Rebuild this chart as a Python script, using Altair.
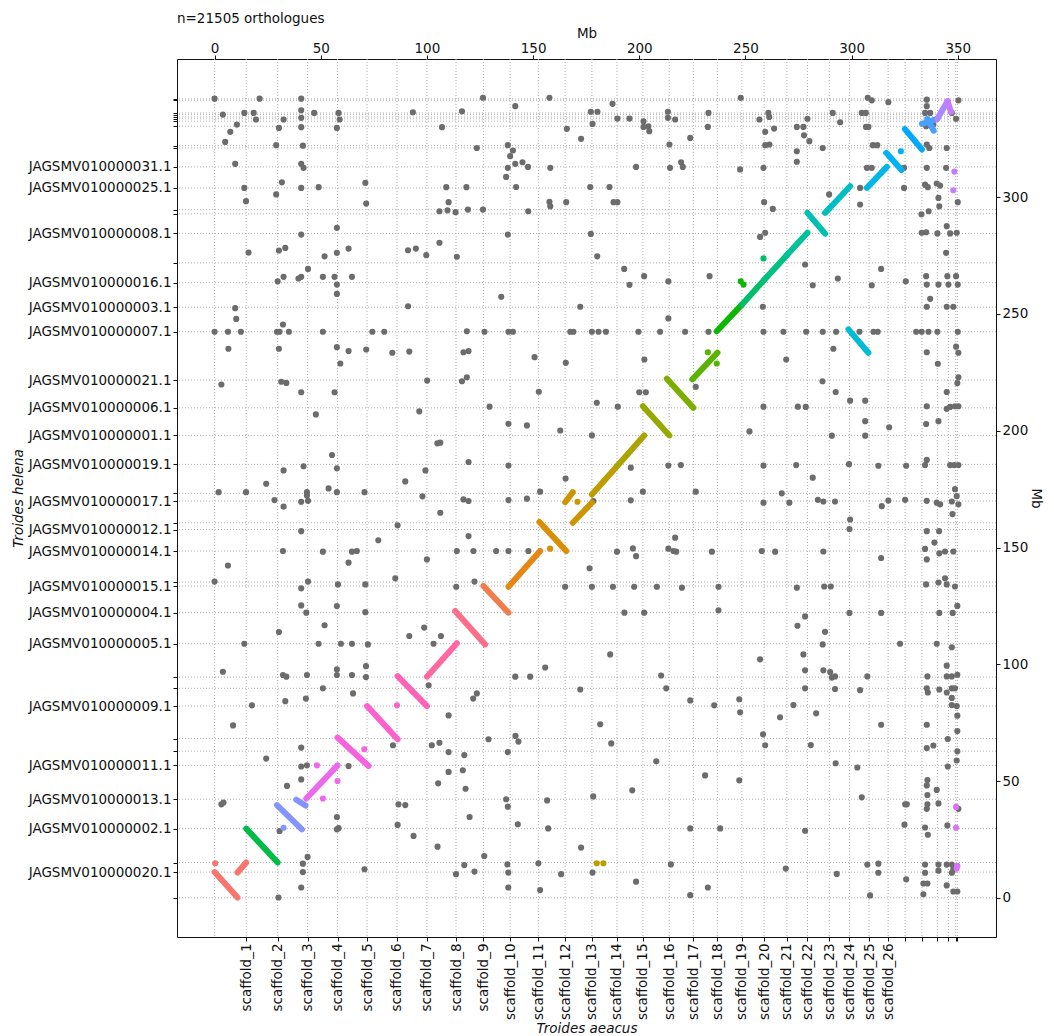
import math
import json
import altair as alt
import pandas as pd

TITLE = "n=21505 orthologues"
X_TITLE = "Troides aeacus"
Y_TITLE = "Troides helena"

X_DOMAIN = [-17.7, 368.0]
Y_DOMAIN = [-16.8, 359.2]
TOP_TICKS = [0, 50, 100, 150, 200, 250, 300, 350]
RIGHT_TICKS = [0, 50, 100, 150, 200, 250, 300]

# Troides aeacus scaffold boundaries (Mb)
X_BOUNDS = [0, 14.9, 29.7, 43.8, 57.9, 71.8, 85.9, 100.0, 113.7, 126.6, 139.2, 152.5,
            165.1, 177.7, 189.5, 201.7, 214.1, 225.5, 236.8, 248.3, 258.8, 269.5, 279.2,
            289.5, 299.0, 308.2, 317.2, 325.2, 333.1, 340.4, 345.6, 349.0, 349.8]
X_NAMES = ["", "scaffold_1", "scaffold_2", "scaffold_3", "scaffold_4", "scaffold_5",
           "scaffold_6", "scaffold_7", "scaffold_8", "scaffold_9", "scaffold_10",
           "scaffold_11", "scaffold_12", "scaffold_13", "scaffold_14", "scaffold_15",
           "scaffold_16", "scaffold_17", "scaffold_18", "scaffold_19", "scaffold_20",
           "scaffold_21", "scaffold_22", "scaffold_23", "scaffold_24", "scaffold_25",
           "scaffold_26", "", "", "", "", "", ""]

# Troides helena scaffold boundaries (Mb)
Y_BOUNDS = [0, 11.0, 15.1, 29.6, 42.2, 56.7, 62.8, 68.2, 82.1, 89.7, 94.5, 108.8, 122.1,
            133.5, 135.2, 148.5, 157.7, 160.6, 169.9, 173.2, 185.6, 198.0, 209.8, 221.7,
            242.4, 252.9, 263.4, 271.9, 284.5, 292.9, 294.7, 304.0, 313.0, 321.1, 322.1,
            330.4, 332.6, 333.6, 334.4, 335.4, 336.1, 341.5, 342.1]
Y_NAMES = ["", "JAGSMV010000020.1", "", "JAGSMV010000002.1", "JAGSMV010000013.1",
           "JAGSMV010000011.1", "", "", "JAGSMV010000009.1", "", "", "JAGSMV010000005.1",
           "JAGSMV010000004.1", "JAGSMV010000015.1", "", "JAGSMV010000014.1",
           "JAGSMV010000012.1", "", "JAGSMV010000017.1", "", "JAGSMV010000019.1",
           "JAGSMV010000001.1", "JAGSMV010000006.1", "JAGSMV010000021.1",
           "JAGSMV010000007.1", "JAGSMV010000003.1", "JAGSMV010000016.1", "",
           "JAGSMV010000008.1", "", "", "JAGSMV010000025.1", "JAGSMV010000031.1",
           "", "", "", "", "", "", "", "", "", ""]

# Colored collinear blocks: scaffold, x1, y1, x2, y2 (Mb)
SEG_SCAF = ["scaffold_1", "scaffold_1", "scaffold_2", "scaffold_3", "scaffold_3",
            "scaffold_4", "scaffold_5", "scaffold_6", "scaffold_7", "scaffold_8",
            "scaffold_9", "scaffold_10", "scaffold_11", "scaffold_12", "scaffold_13",
            "scaffold_13", "scaffold_14", "scaffold_15", "scaffold_16", "scaffold_17",
            "scaffold_18", "scaffold_19", "scaffold_20", "scaffold_21", "scaffold_22",
            "scaffold_23", "scaffold_23", "scaffold_24", "scaffold_25", "scaffold_26",
            "scaffold_27", "scaffold_28", "scaffold_29", "scaffold_29", "scaffold_30",
            "scaffold_31"]
SEG_X1 = [0.0, 10.8, 14.9, 29.4, 38.5, 43.2, 57.9, 71.8, 86.2, 100.0, 113.3, 126.6, 138.4,
          153.0, 165.1, 168.7, 177.7, 189.5, 201.7, 213.0, 225.0, 236.5, 248.3, 258.8,
          269.5, 279.2, 287.5, 289.5, 298.5, 307.2, 316.3, 325.1, 333.1, 335.6, 340.4, 345.2]
SEG_Y1 = [11.0, 10.8, 29.6, 39.7, 42.0, 42.5, 68.6, 82.1, 94.9, 94.7, 122.8, 133.5, 133.2,
          160.9, 169.4, 160.6, 172.7, 184.8, 210.5, 222.3, 222.0, 242.6, 254.0, 264.6,
          275.2, 293.3, 293.3, 295.2, 243.4, 304.0, 319.0, 329.2, 331.4, 333.6, 333.6, 341.2]
SEG_X2 = [10.8, 14.9, 29.7, 41.1, 42.8, 57.9, 72.5, 86.2, 100.0, 114.1, 127.4, 138.4, 153.3,
          165.6, 168.7, 177.7, 189.5, 202.3, 214.2, 225.5, 236.8, 248.3, 258.8, 269.5,
          279.2, 287.5, 289.5, 299.3, 307.9, 316.6, 323.5, 333.1, 340.4, 338.7, 345.2, 346.8]
SEG_Y2 = [0.1, 15.1, 15.1, 29.3, 39.5, 56.7, 56.4, 67.9, 82.1, 109.0, 108.5, 122.1, 148.5,
          148.5, 173.7, 169.2, 184.8, 198.0, 198.0, 209.8, 233.4, 254.0, 264.6, 275.2,
          284.8, 284.4, 295.2, 304.7, 233.4, 313.0, 311.7, 320.5, 333.6, 328.5, 341.2, 336.5]

# Colored isolated orthologues
DOT_SCAF = ["scaffold_1", "scaffold_3", "scaffold_4", "scaffold_4", "scaffold_4",
            "scaffold_5", "scaffold_6", "scaffold_12", "scaffold_13", "scaffold_14",
            "scaffold_14", "scaffold_18", "scaffold_18", "scaffold_19", "scaffold_19",
            "scaffold_20", "scaffold_27", "scaffold_31", "scaffold_31", "scaffold_32",
            "scaffold_32", "scaffold_32", "scaffold_32"]
DOT_X = [0.3, 32.5, 48.2, 51.0, 57.9, 70.5, 85.9, 158.0, 170.9, 180.0, 183.1, 232.3, 236.5,
         247.8, 249.1, 258.5, 323.2, 348.4, 347.9, 349.2, 349.2, 349.8, 349.5]
DOT_Y = [14.8, 30.0, 56.7, 42.5, 50.0, 63.6, 82.4, 149.5, 169.6, 14.8, 14.8, 233.6, 228.8,
         264.0, 262.6, 273.8, 319.7, 311.0, 303.0, 38.9, 30.0, 13.7, 12.5]

# Grey (non-syntenic) orthologues, [x Mb, y Mb]
GRAY_PTS = [
    [0, 342.2], [21.2, 342.2], [40.8, 342.2], [3.9, 335.4], [14.0, 336.1], [18.4, 336.1],
    [19.5, 333.3], [40.8, 337.2], [40.8, 334.0], [46.9, 336.1], [58.4, 336.1], [58.9, 333.3],
    [32.5, 333.3], [10.5, 331.1], [7.4, 328.0], [5.0, 323.7], [30.3, 329.7], [40.8, 330.0],
    [57.6, 329.7], [29.0, 322.3], [41.6, 322.1], [9.7, 314.3], [40.8, 314.3], [41.9, 312.6],
    [14.0, 304.0], [31.7, 306.4], [40.8, 304.0], [49.0, 304.3], [29.0, 301.2], [14.8, 298.3],
    [57.6, 286.9], [40.8, 284.0], [16.0, 276.3], [30.3, 277.2], [33.3, 278.3], [51.8, 274.7],
    [57.6, 276.2], [63.1, 278.0], [44.0, 269.3], [29.7, 264.0], [32.5, 265.9], [39.5, 265.2],
    [40.8, 265.9], [51.0, 265.9], [56.5, 265.9], [64.7, 265.9], [57.6, 262.6], [57.6, 258.6],
    [9.7, 252.5], [10.2, 247.9], [32.2, 245.5], [0, 242.4], [6.3, 242.4], [12.4, 242.4],
    [29.4, 242.4], [30.6, 242.4], [35.0, 242.4], [51.0, 242.4], [6.5, 235.1], [30.3, 235.1],
    [57.6, 235.8], [63.1, 234.1], [59.2, 228.8],
    [3.2, 219.8], [31.4, 221.0], [33.8, 220.5], [40.8, 216.5], [56.5, 216.5], [47.7, 207.0],
    [55.3, 189.6], [32.5, 183.0], [41.9, 184.8], [57.6, 183.9], [24.3, 177.3], [1.9, 173.7],
    [14.8, 173.7], [43.5, 173.7], [43.5, 172.3], [53.7, 175.3], [57.6, 173.7], [28.2, 170.3],
    [40.8, 169.6], [44.0, 170.0], [32.5, 167.5], [40.8, 157.0], [32.2, 148.5], [51.0, 148.2],
    [64.7, 148.2], [67.0, 148.5], [6.3, 142.3], [63.1, 143.5], [0, 135.4], [44.0, 135.4],
    [40.8, 132.5], [58.1, 134.2], [40.8, 125.2], [57.6, 124.9], [43.2, 122.1], [51.8, 116.7],
    [30.3, 113.8], [14.0, 108.8], [49.0, 108.8], [59.5, 108.8], [64.7, 108.8],
    [3.9, 96.8], [32.2, 95.4], [33.8, 94.7], [43.5, 95.4], [57.6, 97.8], [57.6, 95.4],
    [64.7, 95.4], [51.0, 89.7], [65.2, 87.5], [17.6, 82.4], [33.3, 84.2], [43.0, 85.3],
    [8.7, 73.8], [40.8, 64.3], [24.3, 59.6], [40.8, 56.2], [43.5, 56.7], [63.1, 56.4],
    [34.1, 47.9], [40.8, 50.7], [3.2, 40.0], [4.2, 40.8], [57.6, 34.6], [57.6, 29.3],
    [58.4, 29.8], [30.6, 28.6], [30.1, 0.1], [40.8, 4.4], [41.6, 11.0], [41.6, 14.6],
    [43.8, 17.5],
    [71.0, 134.2], [85.1, 136.8], [100.0, 144.9], [71.0, 122.3], [72.2, 108.5], [71.3, 99.2],
    [71.3, 94.5], [91.7, 112.1], [98.7, 115.7], [103.1, 108.8], [106.6, 112.1], [113.8, 133.2],
    [122.4, 135.4], [141.6, 94.7], [148.6, 94.7], [100.8, 91.0], [121.8, 85.3], [123.5, 87.5],
    [110.2, 78.1], [129.0, 67.9], [141.7, 69.3], [143.1, 66.9], [138.1, 62.4], [102.3, 65.3],
    [105.9, 66.4], [110.2, 62.4], [117.6, 61.1], [84.0, 65.3], [110.2, 53.9], [116.9, 54.6],
    [105.3, 49.0], [118.2, 46.7], [120.1, 34.6], [86.6, 40.0], [89.8, 39.7], [86.2, 31.2],
    [93.7, 26.5], [105.0, 21.9], [137.3, 42.2], [138.1, 39.0], [142.8, 31.5], [127.0, 17.9],
    [117.6, 14.0], [113.7, 10.1], [122.4, 11.2], [137.9, 14.3], [138.3, 10.8], [138.3, 4.4],
    [70.6, 12.2],
    [152.5, 14.8], [153.3, 3.3], [163.2, 10.1], [172.6, 21.5], [178.0, 10.8],
    [198.5, 6.9], [214.9, 14.3], [224.0, 1.1], [232.3, 4.4], [269.0, 12.5],
    [118.8, 242.6], [127.1, 242.4], [138.4, 242.4], [140.5, 242.4], [167.5, 242.4],
    [169.0, 242.4], [177.7, 242.4], [180.8, 242.4], [184.3, 242.4], [199.6, 242.4],
    [209.8, 242.4], [221.6, 242.4], [232.6, 242.4], [258.5, 242.4], [267.9, 242.4],
    [172.2, 253.1], [213.7, 248.1], [258.2, 253.1], [117.2, 233.6], [119.6, 234.1],
    [150.7, 231.5], [165.4, 229.1], [202.4, 230.5], [269.2, 230.5], [116.5, 221.2],
    [118.8, 222.9], [152.7, 216.7], [180.0, 212.0], [200.0, 216.5], [203.1, 216.5],
    [226.6, 218.8], [129.5, 210.3], [189.9, 210.3], [258.5, 210.3], [274.7, 210.3],
    [138.4, 203.0], [147.1, 202.3], [162.8, 200.1], [177.7, 198.0], [251.9, 199.7],
    [106.3, 194.9], [119.6, 186.6], [138.4, 185.1], [196.0, 184.2], [213.7, 185.1],
    [219.6, 185.3], [258.5, 185.1], [273.9, 185.3], [165.3, 179.5], [153.3, 173.9],
    [201.7, 173.9], [226.6, 173.9], [267.1, 173.2], [117.2, 170.6], [119.6, 169.9],
    [138.4, 170.3], [147.1, 170.9], [178.4, 169.9], [196.0, 170.2], [258.5, 169.2],
    [270.7, 169.2], [106.3, 164.9], [119.6, 154.9], [216.9, 154.2], [114.1, 148.5],
    [121.9, 148.5], [132.6, 148.5], [138.4, 148.5], [147.8, 148.5], [189.5, 148.2],
    [197.0, 149.6], [198.5, 146.3], [213.7, 149.5], [216.1, 148.5], [217.4, 148.2],
    [234.2, 148.2], [257.7, 148.5], [264.0, 148.2], [176.6, 141.1], [165.1, 133.2],
    [177.7, 133.2], [187.6, 133.2], [197.6, 133.2], [208.3, 133.2], [220.1, 132.8],
    [237.3, 133.2], [274.2, 132.8], [193.0, 122.1], [202.3, 122.1], [237.3, 123.1],
    [126.4, 342.6], [157.7, 342.6], [141.6, 339.0], [187.4, 340.0], [93.4, 336.4],
    [116.5, 336.8], [177.2, 336.6], [180.3, 336.6], [232.6, 336.1], [213.5, 336.6],
    [213.5, 334.0], [216.9, 333.3], [189.7, 333.7], [195.4, 333.7], [202.0, 332.5],
    [202.0, 330.1], [204.3, 330.4], [204.7, 328.3], [107.1, 330.0], [165.9, 329.3],
    [178.0, 331.4], [232.3, 330.1], [172.6, 325.0], [224.0, 325.4], [123.5, 321.1],
    [138.1, 322.3], [140.5, 320.0], [139.2, 317.6], [214.2, 322.6], [141.6, 314.3],
    [145.0, 315.0], [147.6, 313.0], [138.1, 312.6], [158.1, 312.6], [198.5, 313.0],
    [214.5, 312.6], [219.7, 315.0], [220.5, 313.0], [71.0, 306.2], [71.4, 297.3],
    [137.3, 308.7], [109.1, 304.3], [118.6, 304.3], [142.0, 304.4], [176.9, 304.4],
    [186.0, 304.4], [110.2, 297.9], [105.9, 294.0], [109.7, 294.4], [113.5, 293.6],
    [119.3, 294.7], [126.4, 294.7], [147.7, 294.0], [157.7, 298.0], [158.1, 296.1],
    [165.6, 297.9], [187.9, 297.9], [189.7, 297.9], [138.1, 284.0], [177.2, 284.3],
    [105.9, 280.5], [91.1, 277.3], [94.8, 278.0], [99.7, 275.2], [114.1, 274.5],
    [180.2, 274.7], [192.9, 269.3], [195.4, 262.5], [202.3, 266.2], [213.7, 264.0],
    [233.1, 266.2], [135.0, 257.4], [91.1, 253.3],
    [247.8, 342.6], [260.8, 336.1], [261.2, 334.4], [256.6, 333.3], [259.3, 328.0],
    [263.5, 329.4], [274.2, 330.1], [277.3, 330.1], [279.2, 333.6], [277.6, 326.5],
    [280.1, 324.0], [261.3, 322.6], [259.3, 322.3], [274.2, 319.7], [274.2, 315.2],
    [286.4, 321.1], [291.1, 336.1], [294.6, 332.1], [304.8, 336.1], [306.7, 336.1],
    [307.6, 342.6], [309.5, 341.5], [317.3, 340.7], [306.8, 330.1], [307.9, 330.1],
    [310.0, 322.3], [312.1, 322.3], [335.4, 341.8], [335.4, 339.0], [334.6, 336.1],
    [337.0, 336.1], [335.1, 330.4], [338.5, 331.1], [347.2, 336.1], [349.2, 333.6],
    [350.3, 341.5], [335.4, 322.6], [336.6, 321.1], [344.8, 321.1], [247.5, 311.9],
    [258.5, 312.6], [307.2, 312.6], [309.5, 312.6], [324.7, 312.6], [335.4, 312.6],
    [344.5, 312.6], [304.0, 304.0], [324.7, 304.0], [334.6, 305.4], [335.9, 304.3],
    [340.1, 305.9], [341.7, 305.0], [289.4, 301.2], [304.0, 296.9], [258.8, 297.9],
    [262.9, 295.0], [332.9, 292.7], [336.3, 294.0], [340.9, 299.7], [341.3, 296.1],
    [350.0, 297.9], [344.8, 287.6], [256.9, 283.0], [259.3, 284.8], [333.0, 284.8],
    [335.1, 285.0], [340.4, 284.5], [346.4, 284.5], [349.5, 284.8], [344.5, 276.2],
    [278.1, 271.2], [313.9, 269.3], [293.5, 265.2], [281.7, 262.3], [309.5, 262.3],
    [325.5, 264.0], [335.1, 266.2], [335.4, 262.6], [340.9, 262.6], [345.1, 266.2],
    [345.6, 262.6], [349.2, 266.2], [350.0, 262.6], [337.0, 256.5], [335.4, 253.1],
    [344.8, 253.1], [347.9, 253.1], [278.6, 242.4], [286.4, 242.4], [292.7, 242.4],
    [303.7, 242.4], [310.3, 242.4], [312.3, 242.4], [330.4, 242.4], [333.0, 242.4],
    [336.2, 242.4], [340.4, 242.4], [350.0, 242.4], [291.4, 235.1], [335.4, 233.6],
    [340.6, 228.7], [349.2, 236.0], [350.3, 233.4], [350.3, 222.9],
    [286.3, 221.2], [292.5, 216.6], [299.3, 212.9], [306.4, 212.9], [278.4, 210.2],
    [335.4, 210.5], [346.4, 210.2], [348.7, 210.5], [350.3, 210.5], [344.8, 209.4],
    [344.8, 216.6], [349.8, 220.4], [306.4, 204.1], [340.9, 204.1], [335.1, 202.9],
    [317.7, 201.5], [290.7, 197.9], [306.4, 197.9], [298.8, 185.7], [312.6, 185.0],
    [325.7, 185.0], [334.6, 185.3], [335.4, 187.5], [346.4, 185.3], [348.3, 185.3],
    [350.3, 185.3], [281.7, 179.9], [284.1, 170.4], [286.7, 169.7], [292.2, 169.7],
    [314.2, 167.7], [317.3, 170.1], [325.2, 170.4], [335.4, 170.0], [340.1, 169.2],
    [341.7, 168.5], [347.2, 169.7], [350.3, 168.5], [348.7, 175.0], [349.5, 172.0],
    [347.5, 164.3], [299.3, 162.0], [299.0, 157.9], [335.4, 157.0], [341.2, 157.0],
    [339.0, 152.1], [286.7, 148.3], [334.6, 149.4], [335.4, 144.9], [341.3, 147.5],
    [344.0, 148.3], [347.9, 148.3], [313.9, 145.5], [287.1, 133.3], [290.2, 133.3],
    [335.1, 134.2], [340.9, 135.0], [344.0, 136.8], [344.8, 134.2], [348.7, 133.3],
    [349.8, 125.0], [278.1, 120.5], [299.0, 122.0], [313.9, 122.0], [341.3, 122.0],
    [347.6, 122.0], [274.5, 116.5], [287.5, 113.9], [277.3, 104.2], [286.4, 108.5],
    [322.8, 108.8], [340.1, 108.8], [347.2, 107.3], [344.8, 99.4], [278.1, 97.4],
    [286.7, 97.4], [289.9, 96.7], [290.7, 94.3], [292.2, 94.8], [307.4, 94.8],
    [335.7, 94.8], [344.8, 94.8], [347.2, 94.8], [349.8, 95.5], [278.1, 89.7],
    [292.2, 89.4], [304.0, 88.9], [335.4, 89.7], [341.3, 89.2], [347.2, 89.7],
    [348.7, 89.7], [335.9, 87.9], [344.8, 87.9], [347.2, 85.6], [347.2, 82.5],
    [349.5, 82.1], [349.8, 78.0], [272.6, 82.5], [283.3, 79.0], [313.9, 74.1],
    [335.4, 74.1], [349.8, 71.4], [280.8, 65.4], [338.5, 65.2], [335.4, 64.1],
    [345.3, 68.0], [349.8, 62.7], [292.5, 57.6], [302.7, 55.8], [345.3, 56.2],
    [349.5, 58.8], [304.8, 43.0], [335.7, 50.4], [335.4, 48.1], [340.1, 46.2],
    [335.7, 44.0], [325.2, 40.0], [326.0, 40.0], [335.7, 40.0], [340.9, 40.4],
    [335.4, 38.1], [350.3, 38.1], [278.1, 28.7], [324.9, 31.3], [334.6, 30.1],
    [335.9, 27.0], [345.1, 31.0], [307.4, 14.2], [312.6, 14.6], [334.6, 14.2],
    [340.9, 14.2], [344.8, 14.2], [347.2, 14.2], [347.9, 12.2], [347.2, 10.7],
    [293.0, 10.2], [312.6, 10.7], [334.6, 10.7], [340.9, 11.6], [325.7, 7.9],
    [333.8, 6.1], [335.7, 6.1], [344.8, 5.3], [347.9, 2.7], [349.8, 2.7], [308.7, 1.0],
    [333.8, 1.5],
    [74.3, 242.4], [79.9, 242.4], [71.4, 234.8], [83.7, 233.4], [91.7, 233.9],
    [100.1, 221.5], [96.4, 208.3], [104.9, 194.6], [99.3, 183.0], [89.8, 178.3],
    [70.6, 173.7], [97.9, 171.9], [86.2, 159.5], [77.1, 153.1],
    [210.3, 95.2], [212.7, 89.7], [224.0, 84.5], [235.3, 82.4], [247.1, 85.0],
    [247.5, 79.4], [258.3, 70.0], [259.3, 65.3], [231.0, 52.4], [247.1, 50.3],
    [186.8, 66.1], [196.7, 46.0], [156.6, 41.7], [178.3, 43.4], [157.1, 29.7],
    [224.0, 29.7], [238.1, 29.7], [208.0, 58.4], [172.2, 89.2], [186.3, 104.2],
    [155.7, 98.6], [256.9, 102.1], [266.3, 77.3], [181.6, 74.3],
]


def hcl_hex(h, c=100.0, l=65.0):
    """Polar CIE-Luv (HCL) colour to sRGB hex, as used by hue palettes."""
    hr = math.radians(h)
    u, v = c * math.cos(hr), c * math.sin(hr)
    xn, yn, zn = 95.047, 100.0, 108.883
    den = xn + 15 * yn + 3 * zn
    un, vn = 4 * xn / den, 9 * yn / den
    Y = yn * ((l + 16) / 116) ** 3 if l > 8 else yn * l / 903.3
    up, vp = u / (13 * l) + un, v / (13 * l) + vn
    X = Y * 9 * up / (4 * vp)
    Z = Y * (12 - 3 * up - 20 * vp) / (4 * vp)
    X, Y, Z = X / 100, Y / 100, Z / 100
    rgb = [3.2404542 * X - 1.5371385 * Y - 0.4985314 * Z,
           -0.9692660 * X + 1.8760108 * Y + 0.0415560 * Z,
           0.0556434 * X - 0.2040259 * Y + 1.0572252 * Z]
    out = []
    for ch in rgb:
        ch = 12.92 * ch if ch <= 0.0031308 else 1.055 * ch ** (1 / 2.4) - 0.055
        out.append(int(round(max(0.0, min(1.0, ch)) * 255)))
    return "#%02x%02x%02x" % tuple(out)


SCAF_ORDER = sorted("scaffold_%d" % i for i in range(1, 33))
PALETTE = [hcl_hex(15 + 360.0 * i / len(SCAF_ORDER)) for i in range(len(SCAF_ORDER))]

FONT = "DejaVu Sans"
FS = 13.5
INK = "#111111"
GRID = "#b0b0b0"

xs = alt.Scale(domain=X_DOMAIN, nice=False, zero=False)
ys = alt.Scale(domain=Y_DOMAIN, nice=False, zero=False)
cs = alt.Scale(domain=SCAF_ORDER, range=PALETTE)

x_label_expr = "%s[indexof(%s, datum.value)]" % (json.dumps(X_NAMES), json.dumps(X_BOUNDS))
y_label_expr = "%s[indexof(%s, datum.value)]" % (json.dumps(Y_NAMES), json.dumps(Y_BOUNDS))

grid_x = alt.Chart(pd.DataFrame({"v": X_BOUNDS})).mark_rule(
    color=GRID, strokeWidth=1, strokeDash=[1, 2]
).encode(
    x=alt.X("v:Q", scale=xs, axis=alt.Axis(orient="top", values=TOP_TICKS, format="d",
                                            title="Mb", titlePadding=1, labelPadding=0))
)

grid_y = alt.Chart(pd.DataFrame({"v": Y_BOUNDS})).mark_rule(
    color=GRID, strokeWidth=1, strokeDash=[1, 2]
).encode(
    y=alt.Y("v:Q", scale=ys, axis=alt.Axis(orient="right", values=RIGHT_TICKS, format="d",
                                            title="Mb", titlePadding=1))
)

gray_df = pd.DataFrame(GRAY_PTS, columns=["x", "y"])
gray = alt.Chart(gray_df).mark_circle(size=38, color="#6c6c6c", opacity=1).encode(
    x=alt.X("x:Q", scale=xs,
            axis=alt.Axis(orient="bottom", values=X_BOUNDS[1:], labelExpr=x_label_expr,
                          labelAngle=270, title=X_TITLE, titleFontStyle="italic",
                          titleY=84)),
    y=alt.Y("y:Q", scale=ys,
            axis=alt.Axis(orient="left", values=Y_BOUNDS, labelExpr=y_label_expr,
                          title=Y_TITLE, titleFontStyle="italic", titlePadding=3)),
)

seg_df = pd.DataFrame({"scaf": SEG_SCAF, "x1": SEG_X1, "y1": SEG_Y1,
                       "x2": SEG_X2, "y2": SEG_Y2})
segs = alt.Chart(seg_df).mark_rule(strokeWidth=6, strokeCap="round", opacity=1).encode(
    x=alt.X("x1:Q", scale=xs, axis=None),
    x2="x2:Q",
    y=alt.Y("y1:Q", scale=ys, axis=None),
    y2="y2:Q",
    color=alt.Color("scaf:N", scale=cs, legend=None),
)

dot_df = pd.DataFrame({"scaf": DOT_SCAF, "x": DOT_X, "y": DOT_Y})
dots = alt.Chart(dot_df).mark_circle(size=38, opacity=1).encode(
    x=alt.X("x:Q", scale=xs, axis=None),
    y=alt.Y("y:Q", scale=ys, axis=None),
    color=alt.Color("scaf:N", scale=cs, legend=None),
)

chart = alt.layer(grid_x, grid_y, gray, segs, dots).resolve_axis(
    x="independent", y="independent"
).properties(
    width=819,
    height=878,
    title=alt.TitleParams(TITLE, anchor="start", frame="group", font=FONT, fontSize=FS,
                          fontWeight="normal", color=INK, offset=1),
    autosize=alt.AutoSizeParams(type="none"),
    padding={"left": 169, "top": 51, "right": 50, "bottom": 97},
).configure_axis(
    labelFont=FONT, titleFont=FONT, labelFontSize=FS, titleFontSize=FS,
    titleFontWeight="normal", labelColor=INK, titleColor=INK, tickColor=INK,
    tickSize=4, tickWidth=1, domain=False, grid=False, labelFlush=False,
    labelOverlap=False, labelPadding=2,
).configure_view(
    stroke=INK, strokeWidth=1
)

chart.save("out.html", embed_options={"renderer": "svg", "actions": False})
